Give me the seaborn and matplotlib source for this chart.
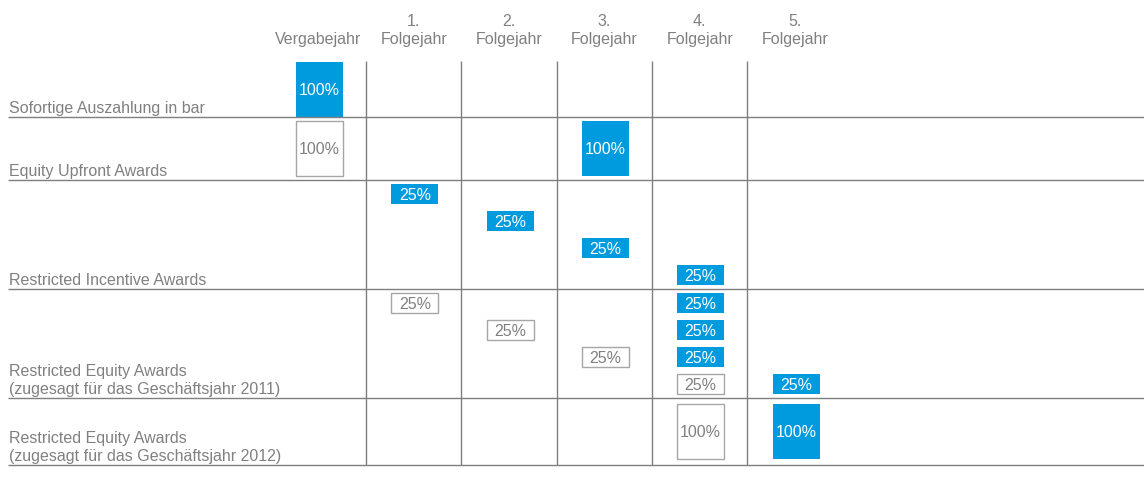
import pandas as pd
import seaborn as sns
import matplotlib.pyplot as plt

sns.set_theme(style="white")
plt.rcParams['font.family'] = ['Liberation Sans', 'DejaVu Sans']

BLUE = "#009bdf"
GREY = "#7f7f7f"
TEXT = "#808080"
EDGE = "#a6a6a6"
FS = 11.5

# ---- data ----
header_num = ["", "1.", "2.", "3.", "4.", "5."]
header_word = ["Vergabejahr", "Folgejahr", "Folgejahr", "Folgejahr", "Folgejahr", "Folgejahr"]
row_labels = [
    "Sofortige Auszahlung in bar",
    "Equity Upfront Awards",
    "Restricted Incentive Awards",
    "Restricted Equity Awards\n(zugesagt für das Geschäftsjahr 2011)",
    "Restricted Equity Awards\n(zugesagt für das Geschäftsjahr 2012)",
]

# one entry per tranche box
box_row = [0, 1, 1, 2, 2, 2, 2, 3, 3, 3, 3, 3, 3, 3, 3, 4, 4]
box_col = [0, 0, 3, 1, 2, 3, 4, 1, 2, 3, 4, 4, 4, 4, 5, 4, 5]
box_slot = [-1, -1, -1, 0, 1, 2, 3, 0, 1, 2, 0, 1, 2, 3, 3, -1, -1]  # -1: whole row
box_share = [100, 100, 100, 25, 25, 25, 25, 25, 25, 25, 25, 25, 25, 25, 25, 100, 100]
box_filled = [True, False, True, True, True, True, True,
              False, False, False, True, True, True, False, True, False, True]

df = pd.DataFrame({"row": box_row, "col": box_col, "slot": box_slot,
                   "share": box_share, "filled": box_filled})

# ---- layout (pixel space) ----
W, H = 1144, 481
COL0, STEP = 318.5, 95.3
row_edges = [62, 118, 181, 290, 399, 466]
BOX_W, SMALL_H, BIG_H = 47, 20.5, 55
SLOT0, SLOT_STEP = 14, 27

fig = plt.figure(figsize=(W / 100, H / 100), dpi=100)
ax = fig.add_axes([0, 0, 1, 1])
ax.set_xlim(0, W)
ax.set_ylim(H, 0)
ax.axis("off")

# grid
ax.hlines(row_edges[1:], 8, W, color=GREY, lw=1.0)
ax.vlines([COL0 + STEP * (c + 0.5) for c in range(5)], row_edges[0], row_edges[-1],
          color=GREY, lw=1.0)

# headers
for c, (n, w) in enumerate(zip(header_num, header_word)):
    xc = COL0 + STEP * c
    if n:
        ax.text(xc, 26, n, ha="center", va="baseline", fontsize=FS, color=TEXT)
    ax.text(xc, 44, w, ha="center", va="baseline", fontsize=FS, color=TEXT)

# row labels
for r, lab in enumerate(row_labels):
    lines = lab.split("\n")
    base = row_edges[r + 1] - 4.5
    for i, line in enumerate(reversed(lines)):
        ax.text(9, base - 18.5 * i, line, ha="left", va="baseline", fontsize=FS, color=TEXT)

# boxes
for _, b in df.iterrows():
    xc = COL0 + STEP * b["col"] + 1
    if b["slot"] < 0:
        h = BIG_H
        yc = (row_edges[b["row"]] + row_edges[b["row"] + 1]) / 2
    else:
        h = SMALL_H
        yc = row_edges[b["row"]] + SLOT0 + SLOT_STEP * b["slot"]
    if b["filled"]:
        ax.bar(xc, h, bottom=yc - h / 2, width=BOX_W, color=BLUE, lw=0)
        tc = "white"
    else:
        ax.bar(xc, h, bottom=yc - h / 2, width=BOX_W, color="white",
               edgecolor=EDGE, lw=1.0)
        tc = TEXT
    ax.text(xc, yc + 0.5, f"{b['share']}%", ha="center", va="center",
            fontsize=FS, color=tc)

fig.savefig("out.png", dpi=100)
